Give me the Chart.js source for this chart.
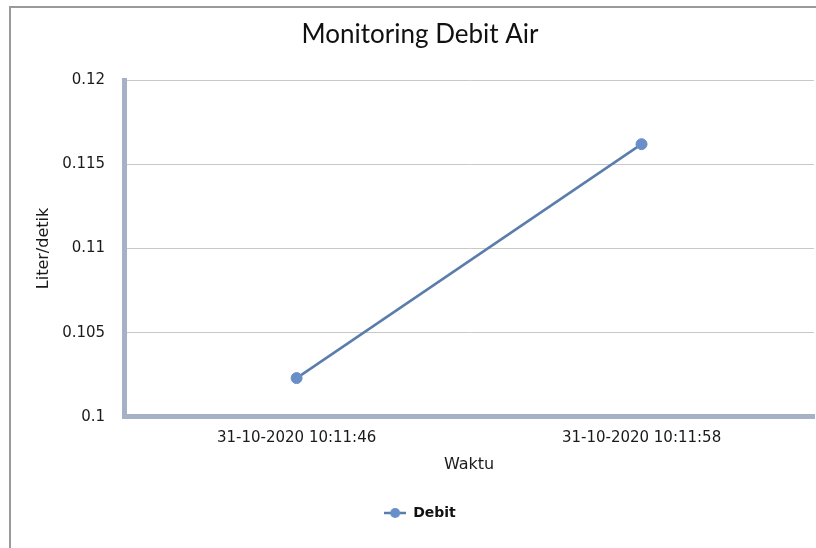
<!DOCTYPE html>
<html>
<head>
<meta charset="utf-8">
<script src="https://cdn.jsdelivr.net/npm/chart.js@4"></script>
<style>
  html, body { margin: 0; padding: 0; background: #fff; overflow: hidden; }
  #box {
    position: absolute; left: 9px; top: 6px;
    width: 818px; height: 600px;
    border: 2px solid #9a9a9a;
  }
  #box canvas { display: block; }
</style>
</head>
<body>
<div id="box"><canvas id="debitChart" width="818" height="540"></canvas></div>
<script>
const waktu = ["31-10-2020 10:11:46", "31-10-2020 10:11:58"];
const debit = [0.1023, 0.1162];
const yTicks = [0.1, 0.105, 0.11, 0.115, 0.12];

const lineColor = "#5b7dab";
const dotColor = "#6a8ec8";
const tickFont = { family: "DejaVu Sans", size: 15 };
const axisTitleFont = { family: "DejaVu Sans", size: 16 };

// legend marker: short line with a dot through it
function legendMarker() {
    let c = document.createElement("canvas");
    c.width = 22; c.height = 12;
    let ctx = c.getContext("2d");
    ctx.strokeStyle = lineColor;
    ctx.lineWidth = 2.5;
    ctx.beginPath();
    ctx.moveTo(0, 6); ctx.lineTo(22, 6);
    ctx.stroke();
    ctx.fillStyle = dotColor;
    ctx.beginPath();
    ctx.arc(11, 6, 5, 0, Math.PI * 2);
    ctx.fill();
    return c;
}

const marker = legendMarker();

new Chart(document.getElementById("debitChart"), {
    type: "line",
    data: {
        labels: waktu,
        datasets: [{
            label: "Debit",
            data: debit,
            borderColor: lineColor,
            borderWidth: 2.5,
            pointRadius: 5.5,
            pointBackgroundColor: dotColor,
            pointBorderColor: dotColor,
            pointBorderWidth: 1,
            tension: 0,
            fill: false
        }]
    },
    options: {
        responsive: false,
        animation: false,
        layout: { padding: { left: 15, right: 15, top: 0, bottom: 18 } },
        plugins: {
            title: {
                display: true,
                text: "Monitoring Debit Air",
                color: "#111",
                font: { family: "Lato", size: 26, weight: "normal" },
                padding: { top: 11, bottom: 30 }
            },
            legend: {
                position: "bottom",
                labels: {
                    usePointStyle: true,
                    pointStyle: marker,
                    pointStyleWidth: 22,
                    color: "#111",
                    font: { family: "DejaVu Sans", size: 14, weight: "bold" },
                    padding: 10,
                    generateLabels: chart => [{
                        text: "Debit",
                        pointStyle: marker,
                        fontColor: "#111",
                        datasetIndex: 0,
                        hidden: false
                    }]
                }
            },
            tooltip: { enabled: false }
        },
        scales: {
            x: {
                offset: true,
                grid: { display: false, drawTicks: false },
                border: { display: true, color: "#a6b1c8", width: 5 },
                ticks: { color: "#1a1a1a", font: tickFont, padding: 12, maxRotation: 0 },
                title: {
                    display: true, text: "Waktu", color: "#1a1a1a",
                    font: axisTitleFont, padding: { top: -4, bottom: 22 }
                }
            },
            y: {
                min: 0.1,
                max: 0.12,
                afterBuildTicks: axis => { axis.ticks = yTicks.map(v => ({ value: v })); },
                grid: { color: "#c8c8c8", lineWidth: 1, drawTicks: false },
                border: { display: true, color: "#a6b1c8", width: 5 },
                ticks: {
                    color: "#1a1a1a", font: tickFont, padding: 19,
                    callback: v => String(+v.toFixed(3))
                },
                title: {
                    display: true, text: "Liter/detik", color: "#1a1a1a",
                    font: axisTitleFont, padding: { top: 8, bottom: -10 }
                }
            }
        }
    }
});
</script>
</body>
</html>
